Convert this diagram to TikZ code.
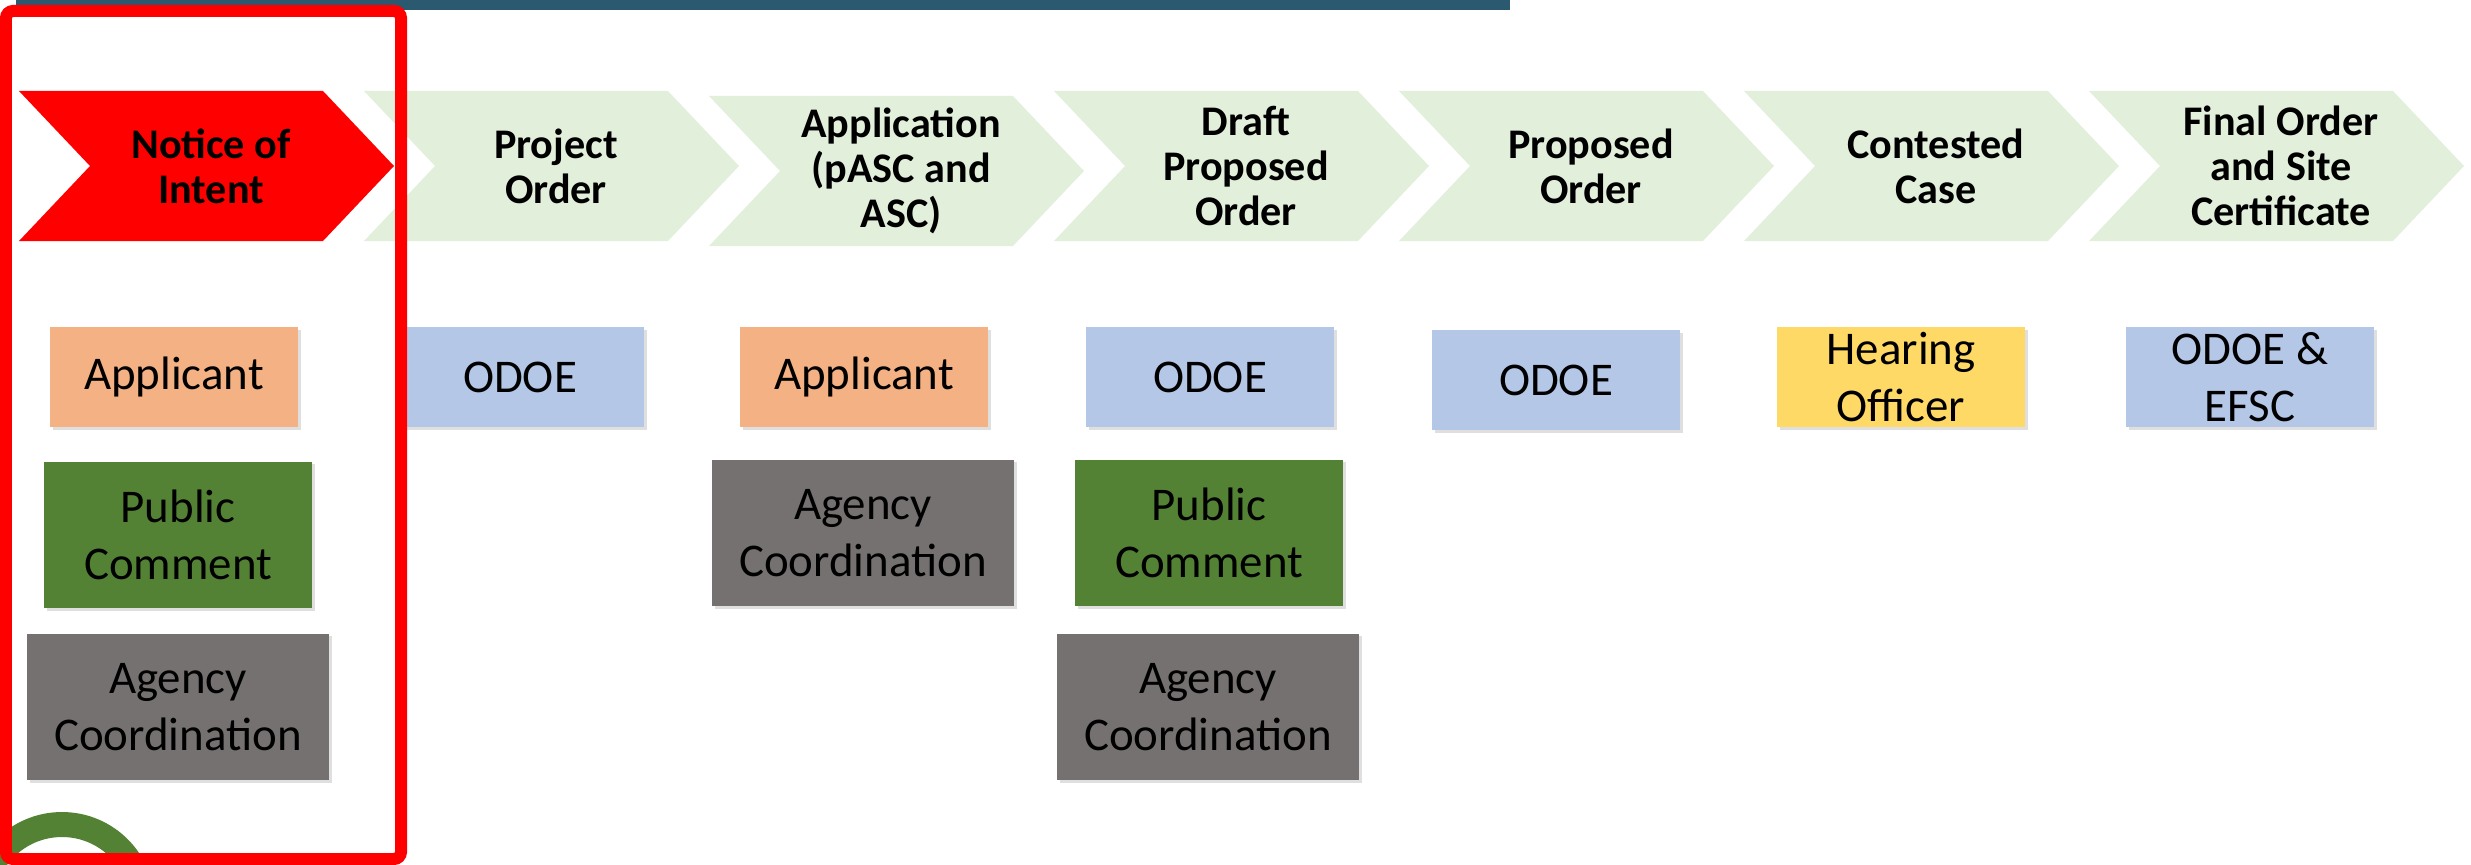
\documentclass[tikz,border=0pt]{standalone}
\usepackage{fontspec}
\setmainfont{Carlito}
\usetikzlibrary{shadows}
\definecolor{bar}{RGB}{43,89,111}
\definecolor{stage}{RGB}{226,239,218}
\definecolor{apl}{RGB}{244,177,131}
\definecolor{odoe}{RGB}{180,199,231}
\definecolor{pub}{RGB}{84,130,53}
\definecolor{agc}{RGB}{118,113,113}
\definecolor{hear}{RGB}{255,217,102}
\tikzset{
head/.style={font=\fontsize{24}{25.6}\selectfont\bfseries, align=center},
box/.style={font=\fontsize{26.7}{32.4}\selectfont, align=center, inner sep=0pt,
  minimum width=4.96cm, minimum height=2cm,
  drop shadow={shadow xshift=1.5pt, shadow yshift=-1.5pt, opacity=0.25}},
tall/.style={minimum height=2.94cm},
}
\newcommand{\chev}[3]{\fill[#3] (#1,#2) -- ++(304,0) -- ++(71,75) -- ++(-71,75) -- ++(-304,0) -- ++(71,-75) -- cycle;}

\begin{document}
\begin{tikzpicture}[x=0.02cm, y=-0.02cm]
    \useasboundingbox (0,0) rectangle (2471,865);
    \fill[bar] (16,0) rectangle (1510,10);
    \chev{19}{91}{red}
    \chev{364}{91}{stage}
    \chev{709}{96}{stage}
    \chev{1054}{91}{stage}
    \chev{1399}{91}{stage}
    \chev{1744}{91}{stage}
    \chev{2089}{91}{stage}
    \node[head] (noi) at (211,166) {Notice of\\Intent};
    \node[head] (proj) at (556,166) {Project\\Order};
    \node[head] (appl) at (901,171) {Application\\(pASC and\\ASC)};
    \node[head] (dpo) at (1246,166) {Draft\\Proposed\\Order};
    \node[head] (po) at (1591,166) {Proposed\\Order};
    \node[head] (cc) at (1936,166) {Contested\\Case};
    \node[head] (fo) at (2281,166) {Final Order\\and Site\\Certificate};

    \node[box, fill=apl] (apl1) at (174,377) {Applicant};
    \node[box, tall, fill=pub, minimum width=5.36cm] (pub1) at (178,535) {Public\\Comment};
    \node[box, tall, fill=agc, minimum width=6.04cm] (agc1) at (178,707) {Agency\\Coordination};
    \node[box, fill=odoe] (odoe2) at (520,377) {ODOE};
    \node[box, fill=apl] (apl3) at (864,377) {Applicant};
    \node[box, tall, fill=agc, minimum width=6.04cm] (agc3) at (863,533) {Agency\\Coordination};
    \node[box, fill=odoe] (odoe4) at (1210,377) {ODOE};
    \node[box, tall, fill=pub, minimum width=5.36cm] (pub4) at (1209,533) {Public\\Comment};
    \node[box, tall, fill=agc, minimum width=6.04cm] (agc4) at (1208,707) {Agency\\Coordination};
    \node[box, fill=odoe] (odoe5) at (1556,380) {ODOE};
    \node[box, fill=hear] (hear6) at (1901,377) {Hearing\\Officer};
    \node[box, fill=odoe] (efsc7) at (2250,377) {ODOE \&\\EFSC};

    \draw[pub, line width=0.5cm] (62,905) circle (1.61cm);
    \draw[red, line width=0.24cm, rounded corners=4pt] (6,11) rectangle (401,859);
\end{tikzpicture}
\end{document}
